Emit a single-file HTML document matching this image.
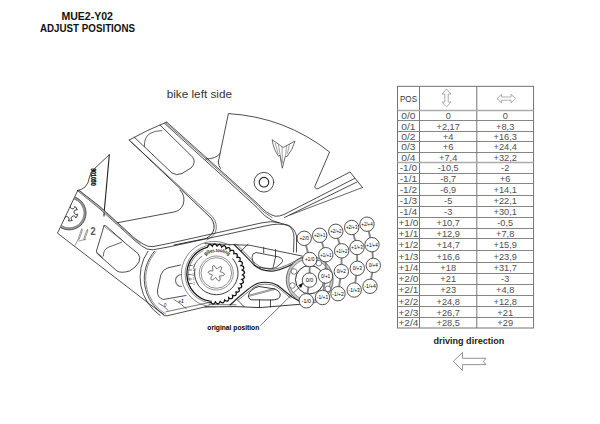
<!DOCTYPE html>
<html><head><meta charset="utf-8"><style>
html,body{margin:0;padding:0;background:#fff;}
body{width:600px;height:424px;overflow:hidden;position:relative;}
svg{position:absolute;left:0;top:0;}
</style></head><body>
<svg width="600" height="424" viewBox="0 0 600 424">
<rect width="600" height="424" fill="#fff"/>
<g font-family="Liberation Sans, sans-serif" font-weight="bold" fill="#111">
<text x="61.4" y="19.5" font-size="10" textLength="51.6" lengthAdjust="spacingAndGlyphs">MUE2-Y02</text>
<text x="40" y="32.4" font-size="10" textLength="95" lengthAdjust="spacingAndGlyphs">ADJUST POSITIONS</text>
<text x="433.4" y="344" font-size="9.5" fill="#222" textLength="71" lengthAdjust="spacingAndGlyphs">driving direction</text>
<text x="207.3" y="329.6" font-size="7.2" fill="#000" textLength="52" lengthAdjust="spacingAndGlyphs">original position</text>
</g>
<text x="166.7" y="97.7" font-family="Liberation Sans, sans-serif" font-size="11" fill="#333" textLength="65.3" lengthAdjust="spacingAndGlyphs">bike left side</text>
<path d="M453.3 361.4 L462.5 352.5 L462.5 358.3 L486 358.3 L483.3 361.4 L486 364.6 L462.5 364.6 L462.5 370.4 Z" fill="none" stroke="#777" stroke-width="0.8"/>
<g stroke="#666" stroke-width="0.9" fill="none">
<rect x="397.5" y="86.3" width="136.10000000000002" height="241.7"/>
<line x1="419.5" y1="86.3" x2="419.5" y2="328"/>
<line x1="476.8" y1="86.3" x2="476.8" y2="328"/>
<line x1="397.5" y1="110.5" x2="533.6" y2="110.5" stroke="#aaa" stroke-width="1.6"/>
<line x1="397.5" y1="120.5" x2="533.6" y2="120.5" stroke="#777"/>
<line x1="397.5" y1="131.5" x2="533.6" y2="131.5" stroke="#777"/>
<line x1="397.5" y1="141.5" x2="533.6" y2="141.5" stroke="#777"/>
<line x1="397.5" y1="152.5" x2="533.6" y2="152.5" stroke="#777"/>
<line x1="397.5" y1="162.5" x2="533.6" y2="162.5" stroke="#aaa" stroke-width="1.6"/>
<line x1="397.5" y1="173.5" x2="533.6" y2="173.5" stroke="#777"/>
<line x1="397.5" y1="183.5" x2="533.6" y2="183.5" stroke="#777"/>
<line x1="397.5" y1="195.5" x2="533.6" y2="195.5" stroke="#777"/>
<line x1="397.5" y1="206.5" x2="533.6" y2="206.5" stroke="#777"/>
<line x1="397.5" y1="217.5" x2="533.6" y2="217.5" stroke="#777"/>
<line x1="397.5" y1="228.5" x2="533.6" y2="228.5" stroke="#777"/>
<line x1="397.5" y1="238.5" x2="533.6" y2="238.5" stroke="#777"/>
<line x1="397.5" y1="250.5" x2="533.6" y2="250.5" stroke="#777"/>
<line x1="397.5" y1="262.5" x2="533.6" y2="262.5" stroke="#777"/>
<line x1="397.5" y1="273.5" x2="533.6" y2="273.5" stroke="#777"/>
<line x1="397.5" y1="284.5" x2="533.6" y2="284.5" stroke="#777"/>
<line x1="397.5" y1="295.5" x2="533.6" y2="295.5" stroke="#777"/>
<line x1="397.5" y1="306.5" x2="533.6" y2="306.5" stroke="#777"/>
<line x1="397.5" y1="317.5" x2="533.6" y2="317.5" stroke="#777"/>
</g>
<g font-family="Liberation Sans, sans-serif" font-size="9.8" fill="#505050" lengthAdjust="spacingAndGlyphs">
<text x="401.29" y="118.88" textLength="14.21" lengthAdjust="spacingAndGlyphs">0/0</text>
<text x="445.65" y="118.88" textLength="5.10" lengthAdjust="spacingAndGlyphs">0</text>
<text x="502.65" y="118.88" textLength="5.10" lengthAdjust="spacingAndGlyphs">0</text>
<text x="401.29" y="129.50" textLength="14.21" lengthAdjust="spacingAndGlyphs">0/1</text>
<text x="436.49" y="129.50" textLength="23.41" lengthAdjust="spacingAndGlyphs">+2,17</text>
<text x="496.04" y="129.50" textLength="18.32" lengthAdjust="spacingAndGlyphs">+8,3</text>
<text x="401.29" y="140.00" textLength="14.21" lengthAdjust="spacingAndGlyphs">0/2</text>
<text x="442.86" y="140.00" textLength="10.67" lengthAdjust="spacingAndGlyphs">+4</text>
<text x="493.49" y="140.00" textLength="23.41" lengthAdjust="spacingAndGlyphs">+16,3</text>
<text x="401.29" y="150.38" textLength="14.21" lengthAdjust="spacingAndGlyphs">0/3</text>
<text x="442.86" y="150.38" textLength="10.67" lengthAdjust="spacingAndGlyphs">+6</text>
<text x="493.49" y="150.38" textLength="23.41" lengthAdjust="spacingAndGlyphs">+24,4</text>
<text x="401.29" y="160.75" textLength="14.21" lengthAdjust="spacingAndGlyphs">0/4</text>
<text x="439.04" y="160.75" textLength="18.32" lengthAdjust="spacingAndGlyphs">+7,4</text>
<text x="493.49" y="160.75" textLength="23.41" lengthAdjust="spacingAndGlyphs">+32,2</text>
<text x="399.77" y="171.25" textLength="17.27" lengthAdjust="spacingAndGlyphs">-1/0</text>
<text x="437.75" y="171.25" textLength="20.89" lengthAdjust="spacingAndGlyphs">-10,5</text>
<text x="501.12" y="171.25" textLength="8.15" lengthAdjust="spacingAndGlyphs">-2</text>
<text x="399.77" y="181.88" textLength="17.27" lengthAdjust="spacingAndGlyphs">-1/1</text>
<text x="440.30" y="181.88" textLength="15.80" lengthAdjust="spacingAndGlyphs">-8,7</text>
<text x="499.86" y="181.88" textLength="10.67" lengthAdjust="spacingAndGlyphs">+6</text>
<text x="399.77" y="192.88" textLength="17.27" lengthAdjust="spacingAndGlyphs">-1/2</text>
<text x="440.30" y="192.88" textLength="15.80" lengthAdjust="spacingAndGlyphs">-6,9</text>
<text x="493.49" y="192.88" textLength="23.41" lengthAdjust="spacingAndGlyphs">+14,1</text>
<text x="399.77" y="204.12" textLength="17.27" lengthAdjust="spacingAndGlyphs">-1/3</text>
<text x="444.12" y="204.12" textLength="8.15" lengthAdjust="spacingAndGlyphs">-5</text>
<text x="493.49" y="204.12" textLength="23.41" lengthAdjust="spacingAndGlyphs">+22,1</text>
<text x="399.77" y="215.12" textLength="17.27" lengthAdjust="spacingAndGlyphs">-1/4</text>
<text x="444.12" y="215.12" textLength="8.15" lengthAdjust="spacingAndGlyphs">-3</text>
<text x="493.49" y="215.12" textLength="23.41" lengthAdjust="spacingAndGlyphs">+30,1</text>
<text x="398.51" y="226.00" textLength="19.79" lengthAdjust="spacingAndGlyphs">+1/0</text>
<text x="436.49" y="226.00" textLength="23.41" lengthAdjust="spacingAndGlyphs">+10,7</text>
<text x="497.30" y="226.00" textLength="15.80" lengthAdjust="spacingAndGlyphs">-0,5</text>
<text x="398.51" y="236.88" textLength="19.79" lengthAdjust="spacingAndGlyphs">+1/1</text>
<text x="436.49" y="236.88" textLength="23.41" lengthAdjust="spacingAndGlyphs">+12,9</text>
<text x="496.04" y="236.88" textLength="18.32" lengthAdjust="spacingAndGlyphs">+7,8</text>
<text x="398.51" y="248.12" textLength="19.79" lengthAdjust="spacingAndGlyphs">+1/2</text>
<text x="436.49" y="248.12" textLength="23.41" lengthAdjust="spacingAndGlyphs">+14,7</text>
<text x="493.49" y="248.12" textLength="23.41" lengthAdjust="spacingAndGlyphs">+15,9</text>
<text x="398.51" y="259.75" textLength="19.79" lengthAdjust="spacingAndGlyphs">+1/3</text>
<text x="436.49" y="259.75" textLength="23.41" lengthAdjust="spacingAndGlyphs">+16,6</text>
<text x="493.49" y="259.75" textLength="23.41" lengthAdjust="spacingAndGlyphs">+23,9</text>
<text x="398.51" y="271.00" textLength="19.79" lengthAdjust="spacingAndGlyphs">+1/4</text>
<text x="440.32" y="271.00" textLength="15.77" lengthAdjust="spacingAndGlyphs">+18</text>
<text x="493.49" y="271.00" textLength="23.41" lengthAdjust="spacingAndGlyphs">+31,7</text>
<text x="398.51" y="282.12" textLength="19.79" lengthAdjust="spacingAndGlyphs">+2/0</text>
<text x="440.32" y="282.12" textLength="15.77" lengthAdjust="spacingAndGlyphs">+21</text>
<text x="501.12" y="282.12" textLength="8.15" lengthAdjust="spacingAndGlyphs">-3</text>
<text x="398.51" y="293.38" textLength="19.79" lengthAdjust="spacingAndGlyphs">+2/1</text>
<text x="440.32" y="293.38" textLength="15.77" lengthAdjust="spacingAndGlyphs">+23</text>
<text x="496.04" y="293.38" textLength="18.32" lengthAdjust="spacingAndGlyphs">+4,8</text>
<text x="398.51" y="304.62" textLength="19.79" lengthAdjust="spacingAndGlyphs">+2/2</text>
<text x="436.49" y="304.62" textLength="23.41" lengthAdjust="spacingAndGlyphs">+24,8</text>
<text x="493.49" y="304.62" textLength="23.41" lengthAdjust="spacingAndGlyphs">+12,8</text>
<text x="398.51" y="315.62" textLength="19.79" lengthAdjust="spacingAndGlyphs">+2/3</text>
<text x="436.49" y="315.62" textLength="23.41" lengthAdjust="spacingAndGlyphs">+26,7</text>
<text x="497.32" y="315.62" textLength="15.77" lengthAdjust="spacingAndGlyphs">+21</text>
<text x="398.51" y="326.25" textLength="19.79" lengthAdjust="spacingAndGlyphs">+2/4</text>
<text x="436.49" y="326.25" textLength="23.41" lengthAdjust="spacingAndGlyphs">+28,5</text>
<text x="497.32" y="326.25" textLength="15.77" lengthAdjust="spacingAndGlyphs">+29</text>
</g>
<text x="400" y="101.6" font-family="Liberation Sans, sans-serif" font-size="9" fill="#333" textLength="17" lengthAdjust="spacingAndGlyphs">POS</text>
<path d="M446.5 89 L451 94 L448.2 94 L448.2 102 L451 102 L446.5 107 L442 102 L444.8 102 L444.8 94 L442 94 Z" fill="none" stroke="#999" stroke-width="0.8"/>
<path d="M497 98.6 L501.5 94.3 L501.5 97 L511 97 L511 94.3 L515.6 98.6 L511 102.9 L511 100.2 L501.5 100.2 L501.5 102.9 Z" fill="none" stroke="#999" stroke-width="0.8"/>
<g fill="none" stroke="#222" stroke-width="0.8" stroke-linecap="round" stroke-linejoin="round">
<!-- upper arm -->
<path d="M129.2,140 Q148,129.5 166.7,122.1"/>
<path d="M129.2,140 L211,218 Q216,225 213,232 Q211,236 206,238.5 L174,245" stroke-width="0.9"/>
<path d="M130.6,141.6 L212.6,216.8 Q218.2,224 215.4,232.5 Q213,237 207,240" stroke-width="0.6"/>
<path d="M165.8,122.8 L257.5,205.2 Q264,213.5 272,217.5" stroke-width="0.6"/>
<path d="M166.7,122.1 L258.5,204.5 Q266,213.5 275,216.2 Q279.5,216.6 284,214.5 L354.5,178.5"/>
<path d="M164.6,123.4 L257,207.5 Q264,216.5 272,220.5 Q281,223.5 289,225.5 Q295,229 296.5,236 L296.5,252"/>
<path d="M284.5,217.5 L357,182"/>
<path d="M362.5,187.5 L290,215" stroke-width="0.7"/>
<!-- pocket + rails -->
<path d="M134.2,137.1 L172,173 Q176,176 182,173.5 L191,168 Q196,163 193,157.5 L160,125" stroke-width="0.8"/>
<path d="M144.4,146.5 Q144,137 150,133.5 Q155,130.5 162,130.6" stroke-width="0.7"/>
<!-- plate with logo -->
<path d="M218.3,162 L228.4,113.6 Q285,117 329.6,152 L314.8,186.5 Q315.3,189.6 318,188.6 L350,172 L362.5,187.5"/>
<path d="M220.3,153.3 Q216,159 205.7,159"/>
<path d="M218.3,162 Q218.4,166 220.5,168.5"/>
<!-- logo -->
<path d="M272.2,140.1 Q273.8,150.5 278.6,156.2 L279.9,155.2 L282.3,168.2 L285.3,156.2 L286.9,156.8 Q292.5,150 295,141.1 L283.5,147.3 Z" stroke-width="0.65"/>
<path d="M275.3,143.4 L278.2,154 M278.4,145 L281.4,161.5 M282,146.8 L282.5,163 M286.6,145.8 L285.7,155.5 M289.6,144.2 L287.4,153.5" stroke="#666" stroke-width="0.6"/>
<!-- bolt -->
<circle cx="263.9" cy="182.2" r="9.85"/>
<circle cx="264" cy="182.2" r="4.8" stroke-width="1.1"/>
<!-- triangle piece -->
<path d="M109.3,154.7 L106.6,185.4 L104.2,211.7 L104,216" stroke-width="1.1"/>
<path d="M109.3,154.7 L94.8,168.3 Q90.5,172 89.5,177 Q88.5,184 85,187 Q82,189.5 77.7,190.7"/>
<text transform="translate(91.2,168.2) rotate(90)" font-family="Liberation Sans, sans-serif" font-size="7.2" font-weight="bold" fill="#111" stroke="#111" stroke-width="0.35" textLength="17.5" lengthAdjust="spacingAndGlyphs">901050</text>
<!-- middle piece -->
<path d="M180,190 Q186,196 183,205 Q180,211 174,212 L116,223"/>
<!-- lower plate -->
<path d="M77.7,190.5 L57.5,233.2 L162.3,313.8 Q164,316.5 167,315.8 L209,306"/>
<path d="M77.8,190.8 L100,209 L135,240.8 L141.5,245.8 Q146.5,250.2 153,249.8 L170,246.7 L265,226 Q280,222.5 288,225.5 Q294,229 294,238 L293.5,252"/>
<path d="M79.5,191.5 L100,207.8 L135,239.7 L140,243.5" stroke="#aaa" stroke-width="1.3"/>
<path d="M79,190.3 L100,206.6 L135,238.6 L143,244 Q147.5,247.2 153,246.6 L170,243.2 L262,222.8 Q271,220.6 279,222.6"/>
<!-- torx circle -->

<!-- mu 2 -->
<path d="M81.9,229.4 Q82.6,229.6 82.2,231 L79.2,239.3 Q78.4,240.3 78.1,239.3 L81.1,230.3 Q81.4,229.4 81.9,229.4 Z" stroke="#555" stroke-width="0.6"/>
<path d="M87.4,229.7 Q88.1,229.9 87.7,231.3 L84.7,239.3 Q83.9,240.3 83.6,239.3 L86.6,230.6 Q86.9,229.7 87.4,229.7 Z" stroke="#555" stroke-width="0.6"/>
<path d="M78.1,239.6 L75,245.3 M79,241 Q82,240.2 84,239.8 Q85.5,240 86,239.5" stroke="#555" stroke-width="0.6"/>
<text x="90.4" y="234.9" font-family="Liberation Sans, sans-serif" font-size="10.2" font-weight="bold" fill="#555" stroke="none" textLength="5.1" lengthAdjust="spacingAndGlyphs">2</text>
<!-- slot -->
<path d="M105,227 L123.8,241.5" stroke-width="0.5"/>
<path d="M104.1,225.7 L96.4,251.1 Q96.6,253.8 99,255.2 L117,271 Q121,273.5 129.6,271 Q136,267.5 139,262 Q141,257 138,253.5 L125.4,243.3 L106.5,226.3 Q105.3,225.5 104.1,225.7 Z" stroke-width="0.8"/>
<path d="M103.4,255.8 Q103.2,249.5 108.4,247.3 L121.5,242.3" stroke-width="0.7"/>
<path d="M97.5,253 L103,257.5" stroke-width="0.6"/>
<!-- housing arcs -->
<path d="M147.9,251.3 A46.2,46.2 0 0 0 160.2,315.5"/>
<path d="M154.5,251.3 A41.8,41.8 0 0 0 164,314.5"/>
<path d="M156,251.6 A40.6,40.6 0 0 0 165.5,313.8" stroke-width="0.5"/>
<!-- lever slot -->
<path d="M180.5,265 L168,267.8 Q162.5,269.5 160.8,275 L157.5,290 Q156.8,297.5 163.2,299.5 L186,295.5" stroke-width="0.8"/>
<path d="M181.5,274.5 A5.8,5.8 0 0 0 181.5,286.5" stroke="#777" stroke-width="1.2"/>
<path d="M158.8,303.3 Q164,306 168,310.2 M174.1,299.5 Q180,303 186.4,308.7" stroke-width="0.6"/>
<text x="163.8" y="306.6" font-family="Liberation Sans, sans-serif" font-size="4.6" font-style="italic" fill="#222" stroke="none">0</text>
<text x="178.3" y="302.8" font-family="Liberation Sans, sans-serif" font-size="4.6" font-style="italic" font-weight="bold" fill="#222" stroke="none">+1</text>
<path d="M166,311.8 L210,302.3" stroke-width="0.6"/>
<!-- link -->
<path d="M205,243.6 L250,245.3 L302,256"/>
<path d="M234,244.5 Q246,256 254,265 Q262,272 274,271 Q288,268 302,258.5" stroke-width="1.1"/>
<path d="M236.2,243.8 Q247.5,255 255.5,263.5 Q263,270 274,269.3 Q287,266.5 302,257" stroke-width="0.6"/>
<path d="M248,244.2 L241,251"/>
<path d="M252,257 Q252,253 256,252.5 L279,257 Q284,259 282,262.5 L276,267.5 Q274,268.5 270,268.5 L259,267.5 Q255,267 253,262 Z"/>
<path d="M275.5,257 L273,268 M263.7,247.2 L263.7,252.8 M275.5,249.6 L275.5,257"/>
<path d="M230,305 Q233,302.5 236,299.5 Q241,295 246,291 Q252,285.5 258,283.2 Q264,281.5 272,283 Q277,284.5 281,288 L292,297 L300,301.5" stroke-width="1.1"/>
<path d="M238.5,299.8 Q243,296.2 247.5,292.5 Q253,287.3 258.5,285 Q264,283.3 271.5,284.7 Q276,286 280,289.3 L290.5,298" stroke-width="0.6"/>
<path d="M248.5,296 Q249,291.5 251.5,290.5 Q255,287 259,286.5 L275,289 Q279,290.5 280.3,294 Q280.5,297.5 278,298.8 Q275,300 271,300 L251,299.8 Q248.3,299 248.5,296 Z" stroke-width="0.9"/>
<path d="M250,296 L275,289.5 M250.5,294.8 L274.5,288.4" stroke-width="0.5"/>
<path d="M259.5,300 L259.5,307.4 M270.5,300 L270.5,307"/>
<path d="M205,307 L236,306.6 L260,307.6 L300,304.3" stroke-width="0.9"/>
<path d="M209,304.6 L236,304.8" stroke-width="0.6"/>
<path d="M237,299.5 L244,306.6"/>
<!-- leader -->
<path d="M260.5,325.5 L300,286.5" stroke-width="0.6"/>
<path d="M303.5,282.5 L298.3,285.3 L301,288 Z" fill="#111" stroke="none"/>
</g>
<path d="M207.80,247.12 L207.86,246.70 L207.96,246.38 L208.07,246.09 L208.18,245.83 L208.31,245.59 L208.43,245.37 L208.57,245.17 L208.71,244.99 L208.86,244.84 L209.02,244.70 L209.18,244.59 L209.34,244.50 L209.51,244.43 L209.68,244.39 L209.86,244.37 L210.04,244.37 L210.22,244.40 L210.41,244.45 L210.60,244.53 L210.79,244.62 L210.98,244.74 L211.17,244.88 L211.36,245.04 L211.56,245.23 L211.75,245.43 L211.94,245.67 L212.13,245.93 L212.33,246.26 L212.48,246.05 L212.62,245.74 L212.77,245.47 L212.93,245.22 L213.09,245.00 L213.26,244.80 L213.42,244.62 L213.59,244.47 L213.76,244.33 L213.94,244.22 L214.11,244.13 L214.29,244.06 L214.47,244.02 L214.65,244.00 L214.82,244.01 L215.00,244.04 L215.18,244.09 L215.35,244.16 L215.53,244.26 L215.70,244.38 L215.87,244.53 L216.04,244.69 L216.20,244.88 L216.36,245.09 L216.52,245.32 L216.67,245.57 L216.81,245.86 L216.95,246.19 L217.12,246.18 L217.32,245.89 L217.51,245.63 L217.71,245.41 L217.90,245.22 L218.10,245.04 L218.29,244.89 L218.49,244.76 L218.68,244.65 L218.87,244.56 L219.06,244.50 L219.24,244.45 L219.43,244.44 L219.61,244.44 L219.78,244.47 L219.95,244.52 L220.12,244.60 L220.28,244.70 L220.44,244.82 L220.59,244.96 L220.73,245.13 L220.87,245.31 L221.00,245.52 L221.13,245.75 L221.24,245.99 L221.35,246.26 L221.45,246.56 L221.54,246.90 L221.66,247.09 L221.91,246.80 L222.15,246.58 L222.38,246.39 L222.60,246.22 L222.82,246.08 L223.04,245.95 L223.26,245.85 L223.47,245.77 L223.67,245.71 L223.87,245.67 L224.06,245.66 L224.24,245.67 L224.42,245.70 L224.59,245.75 L224.76,245.82 L224.91,245.92 L225.05,246.04 L225.19,246.18 L225.32,246.34 L225.43,246.52 L225.54,246.73 L225.64,246.95 L225.73,247.19 L225.80,247.45 L225.87,247.73 L225.92,248.03 L225.96,248.37 L225.97,248.74 L226.28,248.47 L226.55,248.28 L226.81,248.12 L227.06,247.99 L227.31,247.88 L227.55,247.79 L227.78,247.72 L228.00,247.67 L228.21,247.64 L228.41,247.63 L228.61,247.64 L228.79,247.68 L228.96,247.73 L229.13,247.81 L229.28,247.90 L229.42,248.02 L229.54,248.16 L229.65,248.31 L229.76,248.49 L229.84,248.68 L229.92,248.90 L229.98,249.13 L230.03,249.37 L230.07,249.64 L230.09,249.92 L230.09,250.22 L230.08,250.55 L230.02,250.94 L230.29,250.83 L230.60,250.68 L230.89,250.56 L231.16,250.47 L231.42,250.40 L231.68,250.34 L231.92,250.31 L232.15,250.29 L232.36,250.29 L232.57,250.31 L232.76,250.35 L232.94,250.41 L233.11,250.49 L233.26,250.59 L233.39,250.70 L233.51,250.84 L233.62,250.99 L233.71,251.16 L233.78,251.34 L233.84,251.55 L233.88,251.77 L233.91,252.00 L233.92,252.25 L233.92,252.51 L233.89,252.79 L233.85,253.09 L233.79,253.40 L233.69,253.75 L233.85,253.82 L234.19,253.71 L234.50,253.64 L234.79,253.59 L235.06,253.55 L235.32,253.54 L235.57,253.54 L235.80,253.56 L236.02,253.59 L236.22,253.64 L236.41,253.71 L236.58,253.80 L236.73,253.90 L236.87,254.01 L236.99,254.15 L237.09,254.29 L237.17,254.46 L237.24,254.64 L237.28,254.83 L237.31,255.04 L237.32,255.26 L237.31,255.49 L237.28,255.73 L237.24,255.99 L237.18,256.26 L237.09,256.54 L236.99,256.83 L236.84,257.15 L236.85,257.35 L237.22,257.29 L237.54,257.26 L237.84,257.25 L238.12,257.26 L238.38,257.29 L238.63,257.33 L238.86,257.38 L239.07,257.45 L239.27,257.53 L239.45,257.63 L239.60,257.73 L239.74,257.86 L239.86,257.99 L239.96,258.14 L240.04,258.30 L240.10,258.47 L240.14,258.65 L240.16,258.85 L240.16,259.06 L240.13,259.27 L240.09,259.50 L240.03,259.73 L239.95,259.98 L239.85,260.23 L239.72,260.49 L239.57,260.76 L239.39,261.04 L239.21,261.32 L239.61,261.31 L239.94,261.33 L240.24,261.37 L240.52,261.42 L240.78,261.49 L241.02,261.57 L241.24,261.66 L241.44,261.76 L241.63,261.87 L241.79,261.99 L241.93,262.12 L242.06,262.26 L242.16,262.41 L242.24,262.57 L242.29,262.74 L242.33,262.91 L242.34,263.10 L242.33,263.29 L242.30,263.50 L242.25,263.70 L242.17,263.92 L242.08,264.14 L241.96,264.36 L241.82,264.59 L241.66,264.83 L241.48,265.07 L241.26,265.32 L240.97,265.58 L241.29,265.66 L241.62,265.73 L241.92,265.82 L242.19,265.91 L242.44,266.02 L242.67,266.14 L242.88,266.26 L243.07,266.39 L243.24,266.53 L243.38,266.67 L243.51,266.82 L243.61,266.98 L243.69,267.14 L243.74,267.31 L243.78,267.49 L243.79,267.67 L243.77,267.85 L243.74,268.04 L243.68,268.23 L243.60,268.43 L243.49,268.63 L243.37,268.83 L243.22,269.03 L243.05,269.23 L242.86,269.44 L242.64,269.64 L242.40,269.85 L242.09,270.06 L242.22,270.21 L242.55,270.34 L242.84,270.47 L243.09,270.61 L243.33,270.76 L243.54,270.91 L243.73,271.06 L243.90,271.22 L244.05,271.38 L244.17,271.55 L244.28,271.72 L244.36,271.89 L244.41,272.07 L244.45,272.24 L244.46,272.42 L244.44,272.60 L244.40,272.78 L244.34,272.96 L244.26,273.14 L244.15,273.32 L244.02,273.50 L243.87,273.67 L243.69,273.85 L243.50,274.02 L243.28,274.19 L243.04,274.36 L242.77,274.52 L242.45,274.68 L242.38,274.85 L242.70,275.02 L242.97,275.20 L243.21,275.38 L243.42,275.57 L243.61,275.75 L243.77,275.93 L243.92,276.12 L244.04,276.30 L244.15,276.49 L244.22,276.67 L244.28,276.86 L244.31,277.04 L244.32,277.22 L244.31,277.40 L244.27,277.57 L244.21,277.74 L244.12,277.91 L244.01,278.07 L243.88,278.23 L243.73,278.39 L243.55,278.54 L243.36,278.68 L243.14,278.82 L242.90,278.96 L242.64,279.08 L242.36,279.20 L242.03,279.31 L241.76,279.43 L242.08,279.66 L242.32,279.88 L242.53,280.10 L242.71,280.32 L242.87,280.53 L243.01,280.74 L243.13,280.95 L243.23,281.15 L243.30,281.35 L243.35,281.55 L243.38,281.74 L243.39,281.93 L243.37,282.11 L243.33,282.28 L243.27,282.45 L243.19,282.61 L243.08,282.76 L242.95,282.91 L242.80,283.04 L242.63,283.17 L242.44,283.29 L242.23,283.41 L241.99,283.51 L241.74,283.60 L241.47,283.69 L241.17,283.76 L240.84,283.82 L240.44,283.84 L240.69,284.12 L240.90,284.38 L241.08,284.63 L241.23,284.88 L241.36,285.11 L241.47,285.35 L241.55,285.57 L241.62,285.79 L241.66,286.00 L241.69,286.21 L241.69,286.40 L241.67,286.59 L241.63,286.77 L241.57,286.93 L241.48,287.09 L241.38,287.24 L241.25,287.37 L241.11,287.50 L240.94,287.61 L240.75,287.71 L240.55,287.80 L240.32,287.88 L240.08,287.95 L239.82,288.00 L239.54,288.04 L239.25,288.07 L238.92,288.08 L238.54,288.05 L238.59,288.27 L238.77,288.57 L238.91,288.85 L239.02,289.12 L239.11,289.38 L239.18,289.63 L239.24,289.87 L239.27,290.10 L239.28,290.32 L239.28,290.52 L239.25,290.72 L239.20,290.90 L239.14,291.07 L239.05,291.23 L238.95,291.38 L238.83,291.51 L238.68,291.62 L238.52,291.72 L238.34,291.81 L238.15,291.88 L237.93,291.94 L237.70,291.99 L237.46,292.01 L237.20,292.03 L236.92,292.03 L236.62,292.01 L236.31,291.97 L235.96,291.89 L235.84,292.00 L235.97,292.34 L236.07,292.64 L236.14,292.93 L236.19,293.21 L236.23,293.47 L236.24,293.71 L236.24,293.95 L236.22,294.17 L236.18,294.38 L236.13,294.57 L236.06,294.75 L235.97,294.91 L235.86,295.05 L235.74,295.18 L235.60,295.29 L235.45,295.39 L235.27,295.47 L235.09,295.53 L234.88,295.57 L234.67,295.60 L234.44,295.60 L234.19,295.60 L233.93,295.57 L233.66,295.52 L233.38,295.46 L233.08,295.38 L232.76,295.26 L232.50,295.21 L232.60,295.58 L232.65,295.91 L232.68,296.21 L232.69,296.49 L232.68,296.76 L232.66,297.01 L232.62,297.24 L232.57,297.46 L232.50,297.66 L232.42,297.85 L232.32,298.02 L232.21,298.16 L232.09,298.29 L231.95,298.41 L231.79,298.50 L231.63,298.57 L231.45,298.62 L231.25,298.65 L231.05,298.67 L230.83,298.66 L230.61,298.63 L230.37,298.59 L230.12,298.53 L229.87,298.44 L229.60,298.34 L229.32,298.21 L229.03,298.05 L228.68,297.79 L228.74,298.22 L228.74,298.55 L228.73,298.86 L228.69,299.14 L228.64,299.41 L228.58,299.66 L228.51,299.89 L228.42,300.10 L228.33,300.29 L228.22,300.46 L228.10,300.62 L227.97,300.75 L227.82,300.86 L227.67,300.95 L227.51,301.02 L227.33,301.07 L227.15,301.10 L226.96,301.10 L226.75,301.09 L226.54,301.05 L226.33,300.99 L226.10,300.91 L225.87,300.81 L225.63,300.69 L225.39,300.55 L225.14,300.39 L224.88,300.19 L224.60,299.93 L224.51,300.17 L224.46,300.51 L224.40,300.82 L224.32,301.10 L224.23,301.35 L224.13,301.59 L224.02,301.81 L223.90,302.01 L223.78,302.19 L223.64,302.35 L223.50,302.48 L223.35,302.60 L223.19,302.69 L223.03,302.76 L222.86,302.81 L222.68,302.83 L222.50,302.83 L222.31,302.81 L222.11,302.77 L221.91,302.70 L221.71,302.61 L221.50,302.50 L221.29,302.37 L221.08,302.22 L220.86,302.04 L220.64,301.84 L220.42,301.61 L220.19,301.33 L220.03,301.39 L219.93,301.73 L219.82,302.03 L219.69,302.29 L219.56,302.54 L219.43,302.76 L219.28,302.97 L219.14,303.15 L218.98,303.31 L218.83,303.45 L218.67,303.56 L218.50,303.66 L218.33,303.73 L218.16,303.77 L217.98,303.80 L217.80,303.80 L217.62,303.77 L217.44,303.72 L217.25,303.65 L217.07,303.56 L216.88,303.44 L216.69,303.31 L216.51,303.15 L216.32,302.96 L216.14,302.76 L215.96,302.53 L215.77,302.28 L215.59,301.98 L215.42,301.83 L215.27,302.18 L215.11,302.46 L214.94,302.71 L214.77,302.93 L214.60,303.14 L214.43,303.32 L214.25,303.48 L214.08,303.62 L213.90,303.73 L213.72,303.82 L213.54,303.89 L213.36,303.94 L213.18,303.96 L213.00,303.96 L212.83,303.94 L212.65,303.89 L212.48,303.82 L212.31,303.72 L212.14,303.60 L211.97,303.46 L211.81,303.30 L211.66,303.12 L211.50,302.91 L211.35,302.69 L211.21,302.44 L211.07,302.16 L210.94,301.85 L210.82,301.50 L210.61,301.84 L210.40,302.11 L210.20,302.33 L209.99,302.53 L209.79,302.71 L209.59,302.86 L209.39,303.00" fill="none" stroke="#111" stroke-width="1.3"/>
<path d="M209.71,301.18 A27.6,27.6 0 0 1 207.82,247.22" fill="none" stroke="#111" stroke-width="1.3"/>
<path d="M211.94,303.29 A29.4,29.4 0 0 1 210.41,244.89" fill="none" stroke="#444" stroke-width="0.6"/>
<path d="M189.48,280.70 A25.9,25.9 0 0 1 203.55,250.53" fill="none" stroke="#444" stroke-width="0.6"/>
<path d="M193.44,268.36 A21.8,21.8 0 0 1 202.00,256.14" fill="none" stroke="#333" stroke-width="0.7"/>
<path d="M232.43,258.48 A21.7,21.7 0 1 1 195.07,268.49" fill="none" stroke="#222" stroke-width="0.9"/>
<path d="M215.24,306.78 A32.7,32.7 0 1 1 230.45,245.78" fill="none" stroke="#555" stroke-width="0.7"/>
<circle cx="216.3" cy="273" r="17" fill="none" stroke="#666" stroke-width="0.7"/>
<circle cx="216.3" cy="273" r="15.3" fill="none" stroke="#666" stroke-width="0.7"/>
<path d="M223.77,273.30 L223.97,273.50 L224.13,273.71 L224.25,273.93 L224.31,274.14 L224.33,274.36 L224.29,274.57 L224.20,274.76 L224.06,274.95 L223.88,275.12 L223.65,275.27 L223.39,275.40 L223.10,275.51 L222.79,275.60 L222.46,275.66 L222.12,275.71 L221.78,275.74 L221.45,275.76 L221.14,275.76 L220.84,275.76 L220.57,275.76 L220.33,275.77 L220.12,275.78 L219.95,275.81 L219.81,275.85 L219.71,275.92 L219.65,276.01 L219.62,276.13 L219.62,276.29 L219.64,276.47 L219.69,276.69 L219.74,276.93 L219.81,277.20 L219.88,277.50 L219.95,277.81 L220.01,278.14 L220.06,278.48 L220.09,278.81 L220.10,279.15 L220.08,279.47 L220.04,279.77 L219.96,280.05 L219.86,280.29 L219.73,280.50 L219.58,280.66 L219.40,280.78 L219.20,280.85 L218.98,280.87 L218.75,280.85 L218.51,280.77 L218.27,280.65 L218.03,280.49 L217.79,280.29 L217.55,280.07 L217.33,279.81 L217.12,279.55 L216.93,279.27 L216.75,278.99 L216.58,278.72 L216.44,278.46 L216.30,278.23 L216.18,278.02 L216.06,277.85 L215.95,277.71 L215.85,277.62 L215.74,277.57 L215.63,277.56 L215.50,277.59 L215.37,277.67 L215.22,277.78 L215.06,277.92 L214.88,278.10 L214.68,278.29 L214.46,278.50 L214.22,278.72 L213.97,278.94 L213.70,279.15 L213.42,279.34 L213.13,279.51 L212.85,279.66 L212.56,279.77 L212.29,279.85 L212.03,279.88 L211.78,279.87 L211.56,279.82 L211.37,279.72 L211.21,279.59 L211.08,279.41 L210.99,279.20 L210.94,278.95 L210.92,278.68 L210.94,278.39 L210.99,278.08 L211.07,277.77 L211.17,277.45 L211.30,277.13 L211.44,276.83 L211.60,276.53 L211.75,276.26 L211.90,276.00 L212.03,275.76 L212.15,275.55 L212.24,275.37 L212.30,275.21 L212.33,275.07 L212.32,274.95 L212.28,274.84 L212.19,274.76 L212.05,274.68 L211.88,274.61 L211.68,274.54 L211.43,274.47 L211.16,274.39 L210.87,274.31 L210.57,274.21 L210.25,274.10 L209.94,273.97 L209.63,273.83 L209.34,273.66 L209.07,273.49 L208.83,273.30 L208.63,273.10 L208.47,272.89 L208.35,272.67 L208.29,272.46 L208.27,272.24 L208.31,272.03 L208.40,271.84 L208.54,271.65 L208.72,271.48 L208.95,271.33 L209.21,271.20 L209.50,271.09 L209.81,271.00 L210.14,270.94 L210.48,270.89 L210.82,270.86 L211.15,270.84 L211.46,270.84 L211.76,270.84 L212.03,270.84 L212.27,270.83 L212.48,270.82 L212.65,270.79 L212.79,270.75 L212.89,270.68 L212.95,270.59 L212.98,270.47 L212.98,270.31 L212.96,270.13 L212.91,269.91 L212.86,269.67 L212.79,269.40 L212.72,269.10 L212.65,268.79 L212.59,268.46 L212.54,268.12 L212.51,267.79 L212.50,267.45 L212.52,267.13 L212.56,266.83 L212.64,266.55 L212.74,266.31 L212.87,266.10 L213.02,265.94 L213.20,265.82 L213.40,265.75 L213.62,265.73 L213.85,265.75 L214.09,265.83 L214.33,265.95 L214.57,266.11 L214.81,266.31 L215.05,266.53 L215.27,266.79 L215.48,267.05 L215.67,267.33 L215.85,267.61 L216.02,267.88 L216.16,268.14 L216.30,268.37 L216.42,268.58 L216.54,268.75 L216.65,268.89 L216.75,268.98 L216.86,269.03 L216.97,269.04 L217.10,269.01 L217.23,268.93 L217.38,268.82 L217.54,268.68 L217.72,268.50 L217.92,268.31 L218.14,268.10 L218.38,267.88 L218.63,267.66 L218.90,267.45 L219.18,267.26 L219.47,267.09 L219.75,266.94 L220.04,266.83 L220.31,266.75 L220.57,266.72 L220.82,266.73 L221.04,266.78 L221.23,266.88 L221.39,267.01 L221.52,267.19 L221.61,267.40 L221.66,267.65 L221.68,267.92 L221.66,268.21 L221.61,268.52 L221.53,268.83 L221.43,269.15 L221.30,269.47 L221.16,269.77 L221.00,270.07 L220.85,270.34 L220.70,270.60 L220.57,270.84 L220.45,271.05 L220.36,271.23 L220.30,271.39 L220.27,271.53 L220.28,271.65 L220.32,271.76 L220.41,271.84 L220.55,271.92 L220.72,271.99 L220.92,272.06 L221.17,272.13 L221.44,272.21 L221.73,272.29 L222.03,272.39 L222.35,272.50 L222.66,272.63 L222.97,272.77 L223.26,272.94 L223.53,273.11 L223.77,273.30Z" fill="none" stroke="#333" stroke-width="0.8"/>
<clipPath id="pc"><path d="M77.7,190.5 L57.6,232.5 L120,232.5 L120,190 Z"/></clipPath>
<g clip-path="url(#pc)"><path d="M71.95,197.39 A15.85,15.85 0 1 1 59.01,225.14" fill="none" stroke="#999" stroke-width="2.1"/><path d="M72.13,196.36 A16.9,16.9 0 1 1 58.34,225.95" fill="none" stroke="#444" stroke-width="0.8"/><path d="M71.77,198.42 A14.8,14.8 0 1 1 59.69,224.34" fill="none" stroke="#555" stroke-width="0.6"/></g>
<path d="M77.66,214.18 A8.2,8.2 0 0 1 75.92,217.93 A2.4,2.4 0 1 0 72.35,220.43 A8.2,8.2 0 0 1 68.23,220.79 A2.4,2.4 0 1 0 64.28,218.94 A8.2,8.2 0 0 1 61.91,215.56 A2.4,2.4 0 1 0 61.54,211.22 A8.2,8.2 0 0 1 63.28,207.47 A2.4,2.4 0 1 0 66.85,204.97 A8.2,8.2 0 0 1 70.97,204.61 A2.4,2.4 0 1 0 74.92,206.46 A8.2,8.2 0 0 1 77.29,209.84 A2.4,2.4 0 1 0 77.66,214.18Z" fill="none" stroke="#222" stroke-width="0.9" clip-path="url(#pc)"/>
<line x1="188.4" y1="265.5" x2="192.6" y2="265.5" stroke="#333" stroke-width="0.6"/>
<text x="193.3" y="266.7" font-family="Liberation Sans, sans-serif" font-size="3" fill="#333">2</text>
<line x1="188.0" y1="270" x2="192.2" y2="270" stroke="#333" stroke-width="0.6"/>
<text x="192.8" y="271.2" font-family="Liberation Sans, sans-serif" font-size="3" fill="#333">1</text>
<line x1="187.6" y1="274.5" x2="191.8" y2="274.5" stroke="#333" stroke-width="0.6"/>
<text x="192.3" y="275.7" font-family="Liberation Sans, sans-serif" font-size="3" fill="#333">0</text>
<line x1="188.0" y1="279" x2="192.2" y2="279" stroke="#333" stroke-width="0.6"/>
<text x="192.8" y="280.2" font-family="Liberation Sans, sans-serif" font-size="3" fill="#333">1</text>
<line x1="188.4" y1="283.5" x2="192.6" y2="283.5" stroke="#333" stroke-width="0.6"/>
<text x="193.3" y="284.7" font-family="Liberation Sans, sans-serif" font-size="3" fill="#333">2</text>
<path id="garc" d="M196.4,263.5 A21,21 0 0 1 232.6,263.5" fill="none" stroke="none"/>
<text transform="translate(2.5,-1.2)" font-family="Liberation Sans, sans-serif" font-size="5" font-weight="bold" fill="#111"><textPath href="#garc" startOffset="50%" text-anchor="middle" textLength="25" lengthAdjust="spacingAndGlyphs">gilles.tooling</textPath></text>
<circle cx="309.7" cy="279.7" r="22.1" fill="none" stroke="#ccc" stroke-width="2.4"/>
<circle cx="309.7" cy="279.7" r="23.4" fill="none" stroke="#333" stroke-width="0.7"/>
<circle cx="309.7" cy="279.7" r="20.8" fill="none" stroke="#444" stroke-width="0.6"/>
<circle cx="309.7" cy="279.7" r="14.2" fill="none" stroke="#222" stroke-width="0.95"/>
<circle cx="294" cy="271.5" r="2.8" fill="#fff" stroke="#333" stroke-width="0.6"/>
<circle cx="292.4" cy="285.5" r="2.8" fill="#fff" stroke="#333" stroke-width="0.6"/>
<circle cx="318.8" cy="263.2" r="2.8" fill="#fff" stroke="#333" stroke-width="0.6"/>
<circle cx="327.9" cy="288.8" r="2.8" fill="#fff" stroke="#333" stroke-width="0.6"/>
<line x1="306.01" y1="245.27" x2="307.89" y2="252.53" stroke="#888" stroke-width="1.9"/>
<line x1="309.63" y1="266.70" x2="309.57" y2="272.90" stroke="#888" stroke-width="1.9"/>
<line x1="308.40" y1="287.22" x2="307.40" y2="293.68" stroke="#888" stroke-width="1.9"/>
<line x1="321.86" y1="242.17" x2="323.64" y2="247.83" stroke="#888" stroke-width="1.9"/>
<line x1="325.73" y1="261.90" x2="325.67" y2="268.90" stroke="#888" stroke-width="1.9"/>
<line x1="324.57" y1="283.23" x2="323.53" y2="290.37" stroke="#888" stroke-width="1.9"/>
<line x1="337.89" y1="238.19" x2="339.61" y2="243.91" stroke="#888" stroke-width="1.9"/>
<line x1="341.56" y1="258.00" x2="341.44" y2="264.40" stroke="#888" stroke-width="1.9"/>
<line x1="340.24" y1="278.72" x2="339.06" y2="286.58" stroke="#888" stroke-width="1.9"/>
<line x1="353.54" y1="234.46" x2="355.16" y2="240.54" stroke="#888" stroke-width="1.9"/>
<line x1="357.10" y1="254.70" x2="357.20" y2="261.10" stroke="#888" stroke-width="1.9"/>
<line x1="356.28" y1="275.43" x2="355.22" y2="282.87" stroke="#888" stroke-width="1.9"/>
<line x1="368.71" y1="231.19" x2="370.29" y2="237.71" stroke="#888" stroke-width="1.9"/>
<line x1="372.45" y1="251.89" x2="372.85" y2="258.21" stroke="#888" stroke-width="1.9"/>
<line x1="372.18" y1="272.51" x2="371.12" y2="279.19" stroke="#888" stroke-width="1.9"/>
<circle cx="304.2" cy="238.3" r="7.2" fill="#fff" stroke="#333" stroke-width="0.85"/>
<text x="299.60" y="240.10" font-family="Liberation Sans, sans-serif" font-size="5.2" fill="#000" textLength="9.2" lengthAdjust="spacingAndGlyphs">+2/0</text>
<circle cx="319.7" cy="235.3" r="7.2" fill="#fff" stroke="#333" stroke-width="0.85"/>
<text x="314.05" y="237.10" font-family="Liberation Sans, sans-serif" font-size="5.2" fill="#000" textLength="11.3" lengthAdjust="spacingAndGlyphs">+2/+1</text>
<circle cx="335.8" cy="231.3" r="7.2" fill="#fff" stroke="#333" stroke-width="0.85"/>
<text x="330.15" y="233.10" font-family="Liberation Sans, sans-serif" font-size="5.2" fill="#000" textLength="11.3" lengthAdjust="spacingAndGlyphs">+2/+2</text>
<circle cx="351.7" cy="227.5" r="7.2" fill="#fff" stroke="#333" stroke-width="0.85"/>
<text x="346.05" y="229.30" font-family="Liberation Sans, sans-serif" font-size="5.2" fill="#000" textLength="11.3" lengthAdjust="spacingAndGlyphs">+2/+3</text>
<circle cx="367" cy="224.2" r="7.2" fill="#fff" stroke="#333" stroke-width="0.85"/>
<text x="361.35" y="226.00" font-family="Liberation Sans, sans-serif" font-size="5.2" fill="#000" textLength="11.3" lengthAdjust="spacingAndGlyphs">+2/+4</text>
<circle cx="309.7" cy="259.5" r="7.2" fill="#fff" stroke="#333" stroke-width="0.85"/>
<text x="305.10" y="261.30" font-family="Liberation Sans, sans-serif" font-size="5.2" fill="#000" textLength="9.2" lengthAdjust="spacingAndGlyphs">+1/0</text>
<circle cx="325.8" cy="254.7" r="7.2" fill="#fff" stroke="#333" stroke-width="0.85"/>
<text x="320.15" y="256.50" font-family="Liberation Sans, sans-serif" font-size="5.2" fill="#000" textLength="11.3" lengthAdjust="spacingAndGlyphs">+1/+1</text>
<circle cx="341.7" cy="250.8" r="7.2" fill="#fff" stroke="#333" stroke-width="0.85"/>
<text x="336.05" y="252.60" font-family="Liberation Sans, sans-serif" font-size="5.2" fill="#000" textLength="11.3" lengthAdjust="spacingAndGlyphs">+1/+2</text>
<circle cx="357" cy="247.5" r="7.2" fill="#fff" stroke="#333" stroke-width="0.85"/>
<text x="351.35" y="249.30" font-family="Liberation Sans, sans-serif" font-size="5.2" fill="#000" textLength="11.3" lengthAdjust="spacingAndGlyphs">+1/+3</text>
<circle cx="372" cy="244.7" r="7.2" fill="#fff" stroke="#333" stroke-width="0.85"/>
<text x="366.35" y="246.50" font-family="Liberation Sans, sans-serif" font-size="5.2" fill="#000" textLength="11.3" lengthAdjust="spacingAndGlyphs">+1/+4</text>
<circle cx="309.5" cy="280.1" r="7.2" fill="#fff" stroke="#333" stroke-width="0.85"/>
<text x="305.75" y="281.90" font-family="Liberation Sans, sans-serif" font-size="5.2" fill="#000" textLength="7.5" lengthAdjust="spacingAndGlyphs">0/0</text>
<circle cx="325.6" cy="276.1" r="7.2" fill="#fff" stroke="#333" stroke-width="0.85"/>
<text x="321.00" y="277.90" font-family="Liberation Sans, sans-serif" font-size="5.2" fill="#000" textLength="9.2" lengthAdjust="spacingAndGlyphs">0/+1</text>
<circle cx="341.3" cy="271.6" r="7.2" fill="#fff" stroke="#333" stroke-width="0.85"/>
<text x="336.70" y="273.40" font-family="Liberation Sans, sans-serif" font-size="5.2" fill="#000" textLength="9.2" lengthAdjust="spacingAndGlyphs">0/+2</text>
<circle cx="357.3" cy="268.3" r="7.2" fill="#fff" stroke="#333" stroke-width="0.85"/>
<text x="352.70" y="270.10" font-family="Liberation Sans, sans-serif" font-size="5.2" fill="#000" textLength="9.2" lengthAdjust="spacingAndGlyphs">0/+3</text>
<circle cx="373.3" cy="265.4" r="7.2" fill="#fff" stroke="#333" stroke-width="0.85"/>
<text x="368.70" y="267.20" font-family="Liberation Sans, sans-serif" font-size="5.2" fill="#000" textLength="9.2" lengthAdjust="spacingAndGlyphs">0/+4</text>
<circle cx="306.3" cy="300.8" r="7.2" fill="#fff" stroke="#333" stroke-width="0.85"/>
<text x="301.70" y="302.60" font-family="Liberation Sans, sans-serif" font-size="5.2" fill="#000" textLength="9.2" lengthAdjust="spacingAndGlyphs">-1/0</text>
<circle cx="322.5" cy="297.5" r="7.2" fill="#fff" stroke="#333" stroke-width="0.85"/>
<text x="316.85" y="299.30" font-family="Liberation Sans, sans-serif" font-size="5.2" fill="#000" textLength="11.3" lengthAdjust="spacingAndGlyphs">-1/+1</text>
<circle cx="338" cy="293.7" r="7.2" fill="#fff" stroke="#333" stroke-width="0.85"/>
<text x="332.35" y="295.50" font-family="Liberation Sans, sans-serif" font-size="5.2" fill="#000" textLength="11.3" lengthAdjust="spacingAndGlyphs">-1/+2</text>
<circle cx="354.2" cy="290" r="7.2" fill="#fff" stroke="#333" stroke-width="0.85"/>
<text x="348.55" y="291.80" font-family="Liberation Sans, sans-serif" font-size="5.2" fill="#000" textLength="11.3" lengthAdjust="spacingAndGlyphs">-1/+3</text>
<circle cx="370" cy="286.3" r="7.2" fill="#fff" stroke="#333" stroke-width="0.85"/>
<text x="364.35" y="288.10" font-family="Liberation Sans, sans-serif" font-size="5.2" fill="#000" textLength="11.3" lengthAdjust="spacingAndGlyphs">-1/+4</text>
</svg>
</body></html>
